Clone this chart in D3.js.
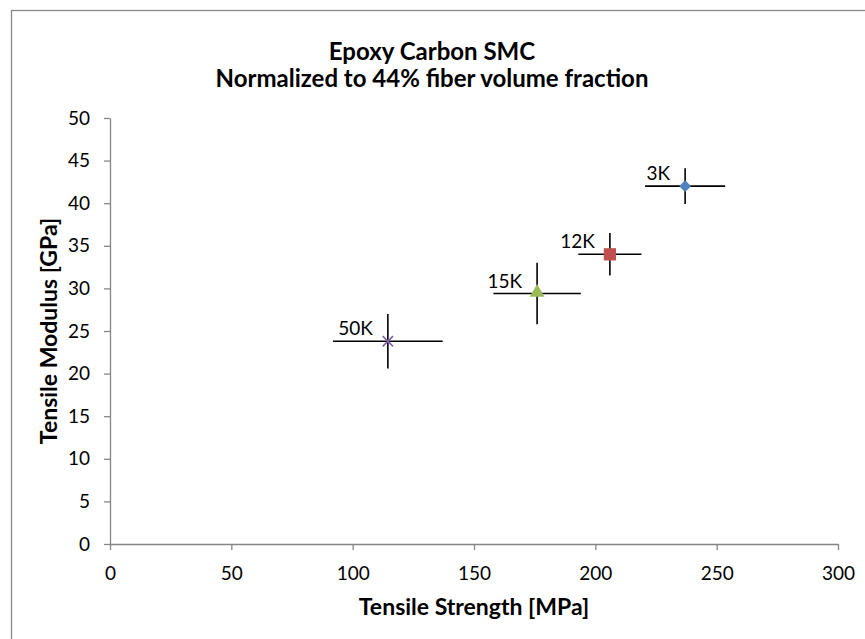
<!DOCTYPE html>
<html>
<head>
<meta charset="utf-8">
<script src="https://cdn.jsdelivr.net/npm/d3@7"></script>
<style>
  body { margin: 0; background: #fff; }
  text { font-family: Lato, "Open Sans", sans-serif; fill: #000; }
</style>
</head>
<body>
<svg id="chart" width="865" height="639"></svg>
<script>
// data
const labels = ["3K", "12K", "15K", "50K"];
const strength = [237, 206, 176, 114.5];
const strengthErr = [16.5, 13, 18, 22.6];
const modulus = [42, 34, 29.4, 23.8];
const modulusErr = [2.1, 2.5, 3.6, 3.2];
const markers = ["diamond", "square", "triangle", "cross"];
const colors = ["#4F81BD", "#C0504D", "#9BBB59", "#8064A2"];
const xTicks = [0, 50, 100, 150, 200, 250, 300];
const yTicks = [0, 5, 10, 15, 20, 25, 30, 35, 40, 45, 50];

const svg = d3.select("#chart");
const padding = { top: 118, right: 27, bottom: 95, left: 110 };
const width = +svg.attr("width");
const height = +svg.attr("height");

// outer chart frame (right/bottom edges fall off the picture)
svg.append("rect")
  .attr("x", 11.5).attr("y", 10.5)
  .attr("width", 900).attr("height", 700)
  .attr("fill", "none").attr("stroke", "#878787").attr("stroke-width", 1.3);

const data = labels.map((l, i) => ({
  label: l, x: strength[i], xe: strengthErr[i],
  y: modulus[i], ye: modulusErr[i], marker: markers[i], color: colors[i]
}));

var xScale = d3.scaleLinear().domain([0, 300]).range([padding.left, width - padding.right]);
var yScale = d3.scaleLinear().domain([0, 50]).range([height - padding.bottom, padding.top]);

var xAxis = d3.axisBottom(xScale).tickValues(xTicks).tickSize(6).tickSizeOuter(0);
var yAxis = d3.axisLeft(yScale).tickValues(yTicks).tickSize(6).tickPadding(14).tickSizeOuter(0);

const gx = svg.append("g")
  .attr("transform", `translate(0,${yScale(0)})`)
  .call(xAxis);
const gy = svg.append("g")
  .attr("transform", `translate(${xScale(0)},0)`)
  .call(yAxis);

[gx, gy].forEach(g => {
  g.select(".domain").attr("stroke", "#868686").attr("stroke-width", 1.3);
  g.selectAll(".tick line").attr("stroke", "#868686").attr("stroke-width", 1.3);
  g.selectAll(".tick text").attr("font-size", "19px").attr("font-family", "Lato, 'Open Sans', sans-serif").attr("fill", "#000");
});
gx.selectAll(".tick text").attr("y", 36).attr("dy", 0);

// error bars
const eb = svg.append("g");
eb.selectAll(".xerr").data(data).enter().append("line")
  .attr("x1", d => xScale(d.x - d.xe)).attr("x2", d => xScale(d.x + d.xe))
  .attr("y1", d => yScale(d.y)).attr("y2", d => yScale(d.y))
  .attr("stroke", "#000").attr("stroke-width", 1.6);
eb.selectAll(".yerr").data(data).enter().append("line")
  .attr("x1", d => xScale(d.x)).attr("x2", d => xScale(d.x))
  .attr("y1", d => yScale(d.y - d.ye)).attr("y2", d => yScale(d.y + d.ye))
  .attr("stroke", "#000").attr("stroke-width", 1.6);

// markers
const symbolType = {
  diamond: d3.symbolDiamond2 || d3.symbolDiamond,
  square: d3.symbolSquare,
  triangle: d3.symbolTriangle,
  cross: d3.symbolTimes || d3.symbolX
};
const symbolSize = { diamond: 90, square: 150, triangle: 95, cross: 70 };

svg.append("g").selectAll("path").data(data).enter().append("path")
  .attr("transform", d => `translate(${xScale(d.x)},${yScale(d.y)})` + (d.marker === "triangle" ? " translate(0,-1)" : ""))
  .attr("d", d => d3.symbol().type(symbolType[d.marker]).size(symbolSize[d.marker])())
  .attr("fill", d => d.marker === "cross" ? "none" : d.color)
  .attr("stroke", d => d.marker === "cross" ? d.color : "none")
  .attr("stroke-width", 1.6);

// point labels
svg.append("g").selectAll("text").data(data).enter().append("text")
  .attr("x", d => xScale(d.x) - 15)
  .attr("y", d => yScale(d.y) - 6)
  .attr("text-anchor", "end")
  .attr("font-size", "19px")
  .text(d => d.label);

// titles
svg.append("text")
  .attr("x", 432).attr("y", 60)
  .attr("text-anchor", "middle").attr("font-size", "24px").attr("font-weight", "bold")
  .text("Epoxy Carbon SMC");
svg.append("text")
  .attr("x", 432).attr("y", 87)
  .attr("text-anchor", "middle").attr("font-size", "24px").attr("font-weight", "bold")
  .text("Normalized to 44% fiber volume fraction");

svg.append("text")
  .attr("x", (xScale(0) + xScale(300)) / 2).attr("y", 615)
  .attr("text-anchor", "middle").attr("font-size", "23px").attr("font-weight", "bold")
  .text("Tensile Strength [MPa]");

svg.append("text")
  .attr("transform", `translate(57,${(yScale(0) + yScale(50)) / 2}) rotate(-90)`)
  .attr("text-anchor", "middle").attr("font-size", "23px").attr("font-weight", "bold")
  .text("Tensile Modulus [GPa]");
</script>
</body>
</html>
